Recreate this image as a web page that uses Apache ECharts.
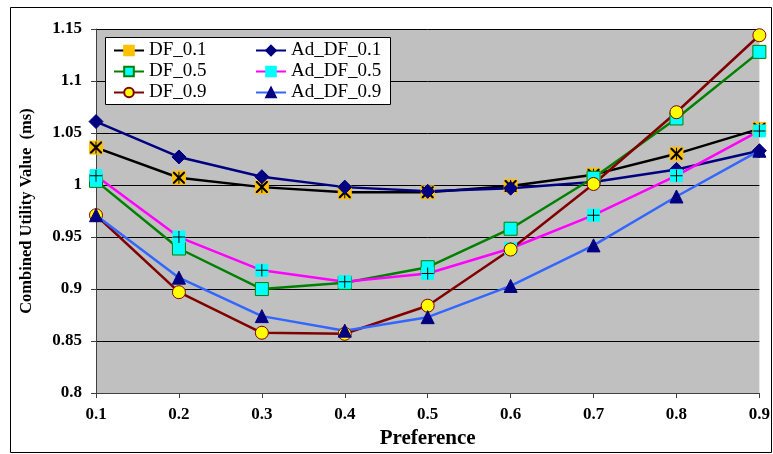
<!DOCTYPE html>
<html><head><meta charset="utf-8">
<script src="https://cdn.jsdelivr.net/npm/echarts@6/dist/echarts.min.js"></script>
<style>html,body{margin:0;padding:0;background:#fff}#c{width:773px;height:454px}</style>
</head><body><div id="c"></div>
<script>
const categories = ['0.1','0.2','0.3','0.4','0.5','0.6','0.7','0.8','0.9'];
const DF_01    = [1.036, 1.007, 0.998, 0.993, 0.993, 0.999, 1.010, 1.030, 1.054];
const Ad_DF_01 = [1.061, 1.027, 1.008, 0.998, 0.994, 0.997, 1.003, 1.015, 1.033];
const DF_05    = [1.004, 0.939, 0.900, 0.906, 0.921, 0.958, 1.007, 1.064, 1.128];
const Ad_DF_05 = [1.009, 0.950, 0.918, 0.907, 0.915, 0.939, 0.971, 1.009, 1.052];
const DF_09    = [0.971, 0.897, 0.858, 0.857, 0.884, 0.938, 1.001, 1.070, 1.144];
const Ad_DF_09 = [0.971, 0.911, 0.874, 0.860, 0.873, 0.903, 0.942, 0.989, 1.033];

const FONT = '"Liberation Serif","Times New Roman",serif';
const X_PATH = 'path://M0,0 L2.5,0 L10,7.5 L17.5,0 L20,0 L20,2.5 L12.5,10 L20,17.5 L20,20 L17.5,20 L10,12.5 L2.5,20 L0,20 L0,17.5 L7.5,10 L0,2.5 Z M9.2,0 L10.8,0 L10.8,20 L9.2,20 Z';
const PLUS_PATH = 'path://M9.2,0 L10.8,0 L10.8,9.2 L20,9.2 L20,10.8 L10.8,10.8 L10.8,20 L9.2,20 L9.2,10.8 L0,10.8 L0,9.2 L9.2,9.2 Z';

function line(name, data, color, symbol, fill, border, size) {
  return {
    name, type: 'line', data, symbol, symbolSize: size,
    lineStyle: { color, width: 2.5 },
    itemStyle: { color: fill, borderColor: border, borderWidth: 1 },
    emphasis: { disabled: true }, animation: false
  };
}
function overlay(name, data, path, size) {
  return {
    name, type: 'line', data, symbol: path, symbolSize: size, silent: true,
    lineStyle: { opacity: 0 }, itemStyle: { color: '#000', borderWidth: 0 },
    emphasis: { disabled: true }, animation: false
  };
}

const chart = echarts.init(document.getElementById('c'), null, { renderer: 'canvas' });
const legendText = { fontFamily: FONT, fontSize: 19, color: '#000' };
chart.setOption({
  animation: false,
  grid: { left: 96, right: 13, top: 29, bottom: 59, show: true, backgroundColor: '#c0c0c0', borderWidth: 0 },
  graphic: [
    { type: 'rect', shape: { x: 10.5, y: 7.5, width: 761, height: 445 }, style: { fill: 'none', stroke: '#000', lineWidth: 1 }, z: 10 },
    { type: 'rect', shape: { x: 105.5, y: 37.5, width: 285, height: 67 }, style: { fill: '#fff', stroke: '#000', lineWidth: 1 }, z: 3 }
  ],
  legend: [
    { data: ['DF_0.1','DF_0.5','DF_0.9'], orient: 'vertical', left: 113, top: 41, padding: 0, itemWidth: 30, itemHeight: 12, itemGap: 2, textStyle: legendText, z: 5 },
    { data: ['Ad_DF_0.1','Ad_DF_0.5','Ad_DF_0.9'], orient: 'vertical', left: 255, top: 41, padding: 0, itemWidth: 30, itemHeight: 12, itemGap: 2, textStyle: legendText, z: 5 }
  ],
  xAxis: {
    type: 'category', data: categories, boundaryGap: false,
    name: 'Preference', nameLocation: 'middle', nameGap: 26,
    nameTextStyle: { fontFamily: FONT, fontSize: 21, fontWeight: 'bold', color: '#000' },
    axisLine: { lineStyle: { color: '#404040', width: 1 } },
    axisTick: { show: true, length: 5, lineStyle: { color: '#404040' } },
    axisLabel: { fontFamily: FONT, fontSize: 17, fontWeight: 'bold', color: '#000', margin: 13 },
    splitLine: { show: false }
  },
  yAxis: {
    type: 'value', min: 0.8, max: 1.15, interval: 0.05,
    name: 'Combined Utility Value  (ms)', nameLocation: 'middle', nameGap: 61, nameRotate: 90,
    nameTextStyle: { fontFamily: FONT, fontSize: 16.5, fontWeight: 'bold', color: '#000' },
    axisLine: { show: true, lineStyle: { color: '#404040', width: 1 } },
    axisTick: { show: true, length: 5, lineStyle: { color: '#404040' } },
    axisLabel: { fontFamily: FONT, fontSize: 17, fontWeight: 'bold', color: '#000', margin: 14 },
    splitLine: { show: true, lineStyle: { color: '#000', width: 1 } }
  },
  series: [
    line('DF_0.1', DF_01, '#000000', 'rect', '#ffc000', '#ffc000', 13),
    overlay('_x', DF_01, X_PATH, 12),
    line('Ad_DF_0.1', Ad_DF_01, '#000080', 'diamond', '#000080', '#000080', 14),
    line('DF_0.5', DF_05, '#008000', 'rect', '#00ffff', '#008000', 13),
    line('Ad_DF_0.5', Ad_DF_05, '#ff00ff', 'rect', '#00ffff', '#00ffff', 12),
    overlay('_p', Ad_DF_05, PLUS_PATH, 12),
    line('DF_0.9', DF_09, '#800000', 'circle', '#ffff00', '#800000', 13),
    line('Ad_DF_0.9', Ad_DF_09, '#3366ff', 'triangle', '#000080', '#000080', 13)
  ]
});
</script></body></html>
